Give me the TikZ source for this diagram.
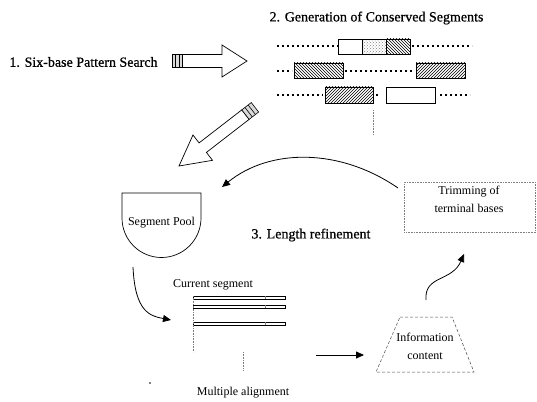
\documentclass[tikz,border=0pt]{standalone}
\usepackage{fontspec}
\setmainfont{Liberation Serif}
\newfontfamily\heavyfont[FakeBold=0.7]{Liberation Serif}
\usetikzlibrary{arrows.meta,patterns}
\begin{document}
\begin{tikzpicture}[x=1pt,y=-1pt,
 title/.style={font=\heavyfont\fontsize{14}{16}\selectfont, inner sep=0pt},
 small/.style={font=\fontsize{12}{18}\selectfont, inner sep=0pt, align=center},
 dotline/.style={line width=2pt, dash pattern=on 2pt off 3pt},
 seg/.style={draw, line width=0.9pt},
 conn/.style={line width=0.8pt, -{Triangle[length=8pt,width=7pt]}},
 faint/.style={draw=gray, densely dotted, line width=0.6pt},
 trapline/.style={draw=black!70, densely dashed, line width=0.5pt},
 block/.style={draw, line width=0.7pt, fill=white, line join=miter},
]
\useasboundingbox (0,0) rectangle (537,401);

% titles
\node[title] (t1) at (83.5,62) {1. Six-base Pattern Search};
\node[title] (t2) at (376.5,18) {2. Generation of Conserved Segments};
\node[title] (t3) at (311,235) {3. Length refinement};

% horizontal hollow arrow
\begin{scope}[shift={(247,61)}]
 \draw[block] (0,0) -- (-25,-16) -- (-25,-6.5) -- (-65,-6.5) -- (-65,6.5) -- (-25,6.5) -- (-25,16) -- cycle;
 \draw[line width=0.6pt, fill=gray!30] (-75,-6.5) rectangle (-65,6.5);
 \draw[line width=0.6pt] (-71.5,-6.5) -- (-71.5,6.5) (-68,-6.5) -- (-68,6.5);
\end{scope}

% diagonal hollow arrow
\begin{scope}[shift={(179,166)}, rotate=217.7]
 \draw[block] (0,0) -- (-30,-16) -- (-30,-6) -- (-84,-6) -- (-84,6) -- (-30,6) -- (-30,16) -- cycle;
 \draw[line width=0.6pt, fill=gray!30] (-96,-6) rectangle (-84,6);
 \draw[line width=0.6pt] (-88,-6) -- (-88,6) (-92,-6) -- (-92,6);
\end{scope}

% conserved segments
\draw[dotline] (277,46) -- (338,46);
\draw[dotline] (412,46) -- (472,46);
\path[pattern=crosshatch dots, pattern color=gray] (362,39) rectangle (386,54);
\path[pattern=north west lines] (386,39) rectangle (410,54);
\draw[seg] (338,39) rectangle (410,54);
\draw[line width=0.5pt] (362,39) -- (362,54) (386,39) -- (386,54);

\draw[dotline] (277,71) -- (292,71);
\path[pattern=north west lines] (294,63) rectangle (343,78);
\draw[seg] (294,63) rectangle (343,78);
\draw[dotline] (345,71) -- (414,71);
\path[pattern=north east lines] (416,63) rectangle (465,78);
\draw[seg] (416,63) rectangle (465,78);

\draw[dotline] (277,95) -- (323,95);
\path[pattern=north east lines] (325,87) rectangle (373,103);
\draw[seg] (325,87) rectangle (373,103);
\draw[dotline] (376,95) -- (379,95);
\draw[seg] (386,87) rectangle (435,103);
\draw[dotline] (440,95) -- (470,95);

\draw[faint] (373,110) -- (373,135);

% segment pool
\draw[line width=0.7pt] (122,193) -- (201,193) -- (201,218) arc[start angle=0, end angle=-180, radius=39.5pt] -- cycle;
\node[small] (pool) at (161.5,223) {Segment Pool};

% trimming box
\node[faint, minimum width=131pt, minimum height=50pt, anchor=north west] (trim) at (404,182) {};
\node[small] (trimtext) at (469,199) {Trimming of\\terminal bases};

% current segment / alignment
\node[small] (cur) at (213,285) {Current segment};
\foreach \yy in {296,305,322}{
 \draw[line width=0.6pt] (193,\yy) rectangle (285,\yy+3);
 \draw[line width=0.3pt, gray] (265,\yy) -- (265,\yy+3);
}
\draw[faint] (193,296) -- (193,352);
\draw[faint] (243,352) -- (243,370);
\node[small] (malign) at (243,393) {Multiple alignment};
\fill (150,383) circle (0.9pt);

% information content
\node[small] (info) at (425,346) {Information\\content};
\draw[trapline] (400,317) -- (452,317) -- (474,372) -- (376,372) -- cycle;

% connectors
\coordinate (trimout) at (398,188);
\coordinate (poolin) at (222,187);
\coordinate (poolout) at (133,267);
\coordinate (alignin) at (171,320);
\coordinate (alignout) at (316,355);
\coordinate (infoin) at (364,355);
\coordinate (infoout) at (426,300);
\coordinate (trimin) at (464,254);
\draw[conn] (trimout) .. controls (340,148) and (270,148) .. (poolin);
\draw[conn] (poolout) .. controls (135,312) and (150,316) .. (alignin);
\draw[conn] (alignout) -- (infoin);
\draw[conn] (infoout) .. controls (424,275) and (452,282) .. (trimin);
\end{tikzpicture}
\end{document}
